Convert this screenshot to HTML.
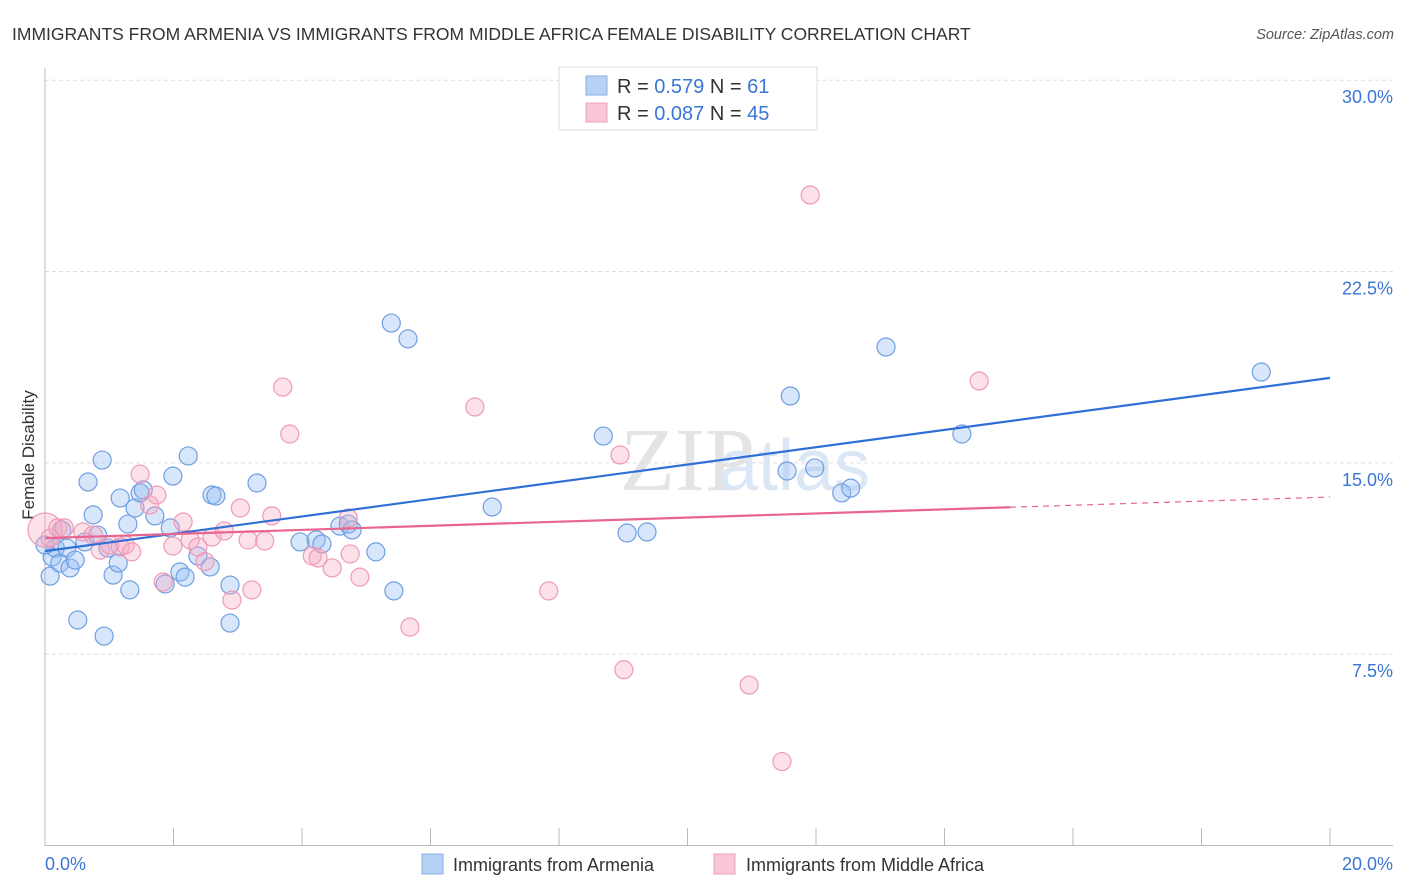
<!DOCTYPE html>
<html><head><meta charset="utf-8"><style>
body{margin:0;background:#fff;font-family:"Liberation Sans",sans-serif;}
svg{display:block}
</style></head><body>
<svg width="1406" height="892" viewBox="0 0 1406 892" id="chart">
<text x="12" y="40" font-size="17.5" fill="#333">IMMIGRANTS FROM ARMENIA VS IMMIGRANTS FROM MIDDLE AFRICA FEMALE DISABILITY CORRELATION CHART</text>
<text x="1394" y="39" font-size="14.5" fill="#555" font-style="italic" text-anchor="end">Source: ZipAtlas.com</text>
<text x="620" y="490" font-size="90" fill="#e4e4e4" font-family="Liberation Serif,serif">ZIP</text>
<text x="718" y="490" font-size="72" fill="#dce7f6">atlas</text>
<g id="grid"></g>
<g id="axes"></g>
<text transform="translate(34,455) rotate(-90)" font-size="17" fill="#333" text-anchor="middle">Female Disability</text>
<g id="pts"></g>
<g id="lines"></g>
<g>
<rect x="559" y="67" width="258" height="63" fill="#fff" stroke="#ddd"/>
<rect x="586" y="76" width="21" height="19" fill="#b7d1f5" stroke="#88aee6"/>
<rect x="586" y="103" width="21" height="19" fill="#f8c6d6" stroke="#eea3bc"/>
<text x="617" y="93" font-size="20" fill="#333">R = <tspan fill="#3a76d6">0.579</tspan>   N =  <tspan fill="#3a76d6">61</tspan></text>
<text x="617" y="120" font-size="20" fill="#333">R = <tspan fill="#3a76d6">0.087</tspan>   N = <tspan fill="#3a76d6">45</tspan></text>
</g>
<g>
<rect x="422" y="854" width="21" height="20" fill="#b7d1f5" stroke="#88aee6"/>
<text x="453" y="871" font-size="18" fill="#333">Immigrants from Armenia</text>
<rect x="714" y="854" width="21" height="20" fill="#f8c6d6" stroke="#eea3bc"/>
<text x="746" y="871" font-size="18" fill="#333">Immigrants from Middle Africa</text>
</g>
</svg>
<script>
const blueX=[0.08,0.11,0.16,0.23,0.34,0.39,0.47,0.51,0.62,0.67,0.75,0.82,0.89,0.92,0.98,1.06,1.14,1.17,1.29,1.32,1.40,1.48,1.53,1.71,1.87,1.95,1.99,2.10,2.18,2.23,2.38,2.57,2.60,2.66,2.88,2.88,3.30,3.97,4.22,4.31,4.59,4.72,4.78,5.15,5.39,5.43,5.65,6.96,8.69,9.06,9.37,11.55,11.60,11.98,12.40,12.54,13.09,14.27,18.93,0,0.26];
const blueY=[10.56,11.31,11.66,11.07,11.66,10.88,11.19,8.84,11.90,14.25,12.96,12.17,15.11,8.21,11.66,10.60,11.07,13.62,12.60,10.02,13.23,13.82,13.94,12.92,10.25,12.45,14.48,10.72,10.52,15.27,11.35,10.92,13.74,13.70,10.21,8.72,14.21,11.90,11.98,11.82,12.52,12.60,12.37,11.51,20.48,9.98,19.86,13.27,16.05,12.25,12.29,14.68,17.62,14.80,13.82,14.01,19.54,16.13,18.56,11.78,12.37];
const pinkX=[0,0.08,0.20,0.30,0.59,0.75,0.86,1.01,1.17,1.25,1.35,1.48,1.63,1.74,1.84,1.99,2.15,2.26,2.38,2.49,2.60,2.79,2.91,3.04,3.16,3.22,3.42,3.53,3.70,3.81,4.16,4.25,4.47,4.72,4.75,4.90,5.68,6.69,7.84,8.95,9.01,10.96,11.47,11.91,14.54];
const pinkY=[12.37,12.05,12.45,12.45,12.29,12.17,11.58,11.78,11.70,11.78,11.51,14.56,13.35,13.74,10.33,11.74,12.68,11.98,11.70,11.13,12.09,12.33,9.62,13.23,11.98,10.02,11.94,12.92,17.97,16.13,11.35,11.27,10.88,12.84,11.43,10.52,8.56,17.19,9.98,15.31,6.89,6.29,3.29,25.50,18.21];
const blueTrend=[11.54,18.33];
const pinkTrend=[12.05,13.66];
const pinkSolidEnd=15.02;
const yTicks=[7.5,15,22.5,30];
const yTickLabels=["7.5%","15.0%","22.5%","30.0%"];
const NS="http://www.w3.org/2000/svg";
const X=v=>45+v*64.25, Y=v=>845.5-v*25.51;
function mk(t,a,p){const e=document.createElementNS(NS,t);for(const k in a)e.setAttribute(k,a[k]);p.appendChild(e);return e;}
const grid=document.getElementById('grid'),axes=document.getElementById('axes'),pts=document.getElementById('pts'),lines=document.getElementById('lines');
yTicks.forEach((t,i)=>{
 const l=mk('line',{x1:45,x2:1393,y1:Y(t),y2:Y(t),stroke:'#ddd','stroke-dasharray':'4,3'},grid);
 
 
 const tx=mk('text',{x:1393,y:Y(t)+23,'font-size':18,fill:'#3a76d6','text-anchor':'end'},grid);
 tx.textContent=yTickLabels[i];
 
 
});
const ya=mk('line',{x1:45,x2:45,y1:68,y2:846,stroke:'#bbb'},axes);


const xa=mk('line',{x1:45,x2:1393,y1:845.5,y2:845.5,stroke:'#bbb'},axes);


for(let i=0;i<=10;i++){const tk=mk('line',{x1:X(i*2),x2:X(i*2),y1:828,y2:845,stroke:'#bbb'},axes);
 
 }
const xl0=mk('text',{x:45,y:870,'font-size':18,fill:'#3a76d6'},axes);xl0.textContent='0.0%';


const xl1=mk('text',{x:1393,y:870,'font-size':18,fill:'#3a76d6','text-anchor':'end'},axes);xl1.textContent='20.0%';


blueX.forEach((x,i)=>{const c=mk('circle',{cx:X(x),cy:Y(blueY[i]),r:9,fill:'rgba(150,190,242,0.38)',stroke:'#6f9fe2','stroke-width':1.2},pts);
 
 });
pinkX.forEach((x,i)=>{const c=mk('circle',{cx:X(x),cy:Y(pinkY[i]),r:i===0?17:9,fill:'rgba(245,170,195,0.35)',stroke:'#ee9ab6','stroke-width':1.2},pts);
 
 });
const bl=mk('line',{x1:X(0),y1:Y(blueTrend[0]),x2:X(20),y2:Y(blueTrend[1]),stroke:'#2f6fd6','stroke-width':2.2},lines);


const ps=pinkTrend[0]+(pinkTrend[1]-pinkTrend[0])*pinkSolidEnd/20;
const pl=mk('line',{x1:X(0),y1:Y(pinkTrend[0]),x2:X(pinkSolidEnd),y2:Y(ps),stroke:'#e8658f','stroke-width':2.2},lines);


const pd=mk('line',{x1:X(pinkSolidEnd),y1:Y(ps),x2:X(20),y2:Y(pinkTrend[1]),stroke:'#e8658f','stroke-width':1.2,'stroke-dasharray':'6,5'},lines);


</script>
</body></html>
